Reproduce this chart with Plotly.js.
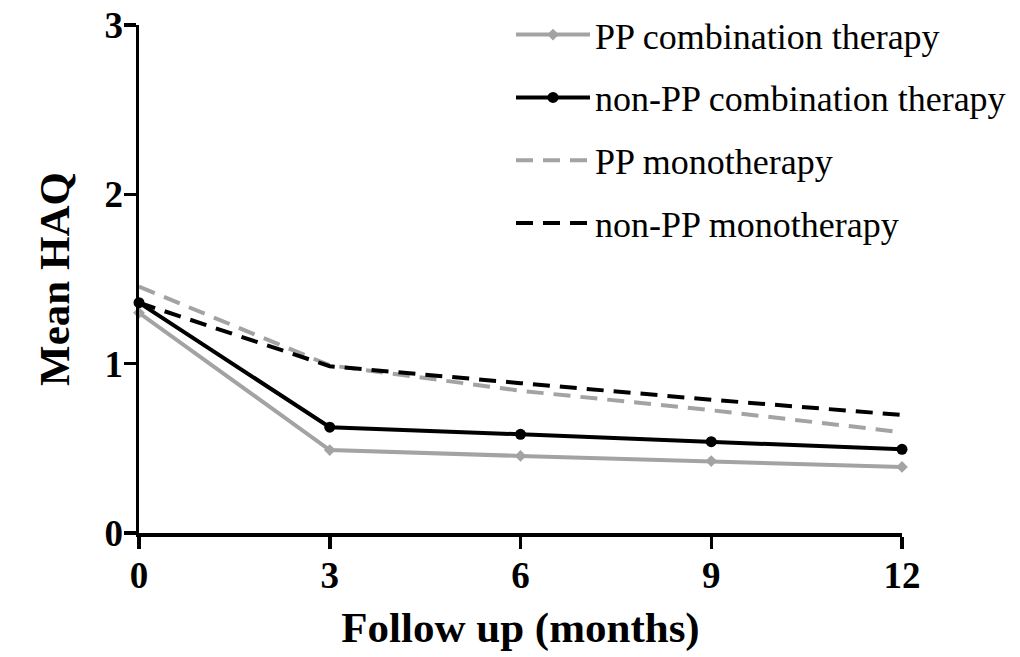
<!DOCTYPE html>
<html>
<head>
<meta charset="utf-8">
<script src="https://cdn.plot.ly/plotly-3.0.1.min.js"></script>
<style>html,body{margin:0;padding:0;background:#fff;}#chart{width:1020px;height:657px;}</style>
</head>
<body>
<div id="chart"></div>
<script>
const months = [0, 3, 6, 9, 12];
const seriesNames = ["PP combination therapy", "non-PP combination therapy", "PP monotherapy", "non-PP monotherapy"];
const ppCombination = [1.30, 0.49, 0.455, 0.425, 0.39];
const nonPpCombination = [1.36, 0.625, 0.583, 0.539, 0.494];
const ppMonotherapy = [1.455, 0.99, 0.84, 0.725, 0.595];
const nonPpMonotherapy = [1.36, 0.985, 0.885, 0.787, 0.697];
const xTickLabels = ["0", "3", "6", "9", "12"];
const yTickValues = [0, 1, 2, 3];

const grey = "#a3a3a3";
const black = "#000000";
const dashStyle = "17px,10px";

const traces = [
  {x: months, y: ppCombination, name: seriesNames[0], mode: "lines+markers", legendgroup: "a",
   line: {color: grey, width: 4}, marker: {symbol: "diamond", size: 9, color: grey}, cliponaxis: false},
  {x: months, y: nonPpCombination, name: seriesNames[1], mode: "lines+markers", legendgroup: "b",
   line: {color: black, width: 4}, marker: {symbol: "circle", size: 11, color: black}, cliponaxis: false},
  {x: months, y: ppMonotherapy, name: seriesNames[2], mode: "lines", legendgroup: "c",
   line: {color: grey, width: 4, dash: dashStyle}, cliponaxis: false},
  {x: months, y: nonPpMonotherapy, name: seriesNames[3], mode: "lines", legendgroup: "d",
   line: {color: black, width: 4, dash: dashStyle}, cliponaxis: false}
];

const serif = "Liberation Serif, Times New Roman, serif";
const tickFont = {family: serif, size: 37, color: "#000", weight: "bold"};
const layout = {
  width: 1020, height: 657,
  margin: {l: 139, r: 118, t: 25, b: 124, autoexpand: false},
  paper_bgcolor: "#fff", plot_bgcolor: "#fff",
  showlegend: true,
  legend: {
    x: (511 - 139) / 763, xanchor: "left", y: 1.04, yanchor: "top",
    font: {family: serif, size: 36, color: "#000"},
    traceorder: "grouped", tracegroupgap: 13, itemwidth: 74,
    bgcolor: "rgba(0,0,0,0)", borderwidth: 0
  },
  xaxis: {
    range: [0, 12], tickvals: months, ticktext: xTickLabels,
    showgrid: false, zeroline: false, showline: true, linecolor: "#000", linewidth: 3.5,
    ticks: "outside", ticklen: 12, tickwidth: 3.5, tickcolor: "#000",
    tickfont: tickFont, ticklabelstandoff: -5,
    title: {text: "Follow up (months)", font: {family: serif, size: 43, color: "#000", weight: "bold"}, standoff: 18}
  },
  yaxis: {
    range: [0, 3], tickvals: yTickValues, ticktext: yTickValues.map(String),
    showgrid: false, zeroline: false, showline: true, linecolor: "#000", linewidth: 3.5,
    ticks: "outside", ticklen: 12, tickwidth: 3.5, tickcolor: "#000",
    tickfont: tickFont, ticklabelstandoff: -7,
    title: {text: "Mean HAQ", font: {family: serif, size: 43, color: "#000", weight: "bold"}, standoff: 22}
  }
};

Plotly.newPlot("chart", traces, layout, {displayModeBar: false, staticPlot: true});
</script>
</body>
</html>
